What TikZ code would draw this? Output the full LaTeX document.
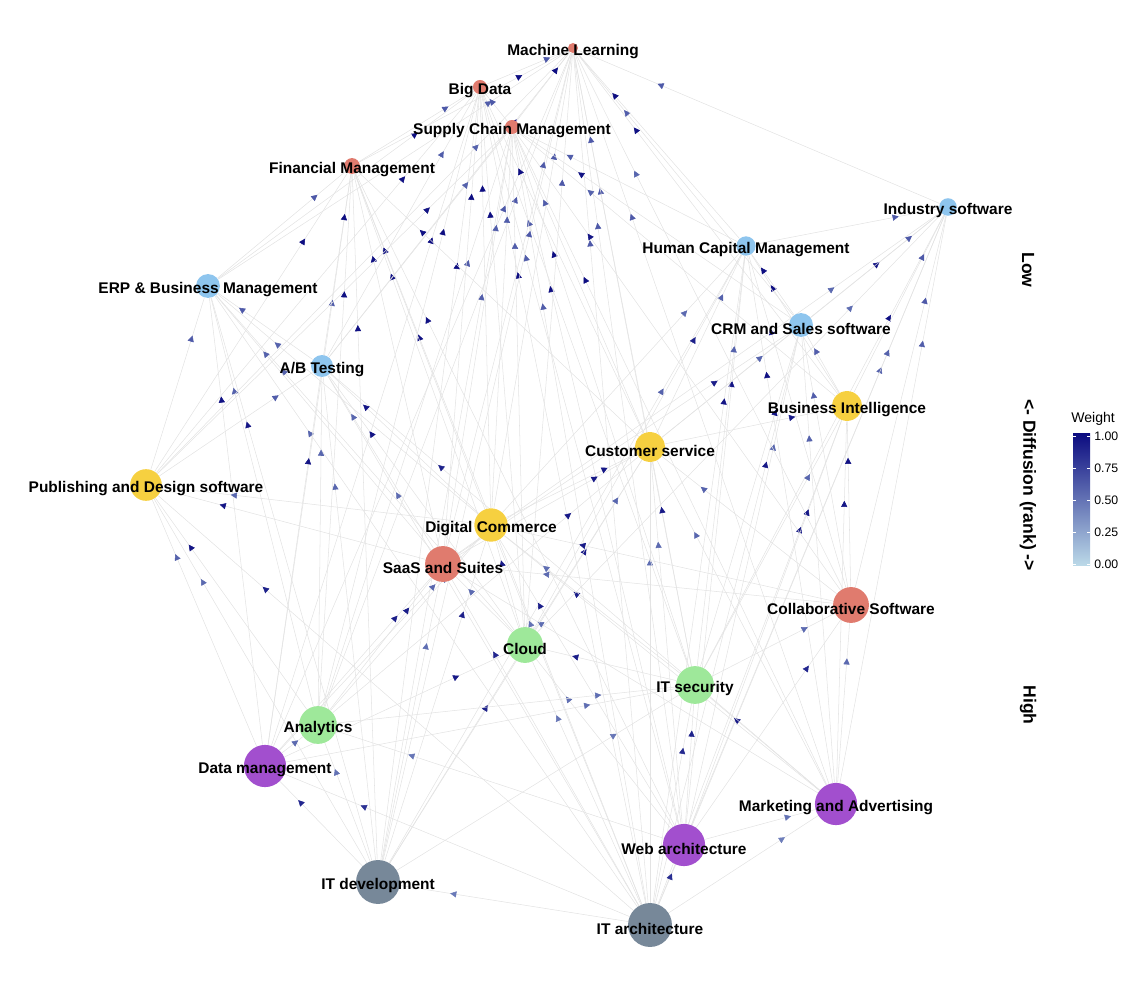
\documentclass[tikz,border=0pt]{standalone}
\usepackage{fontspec}
\setmainfont{Liberation Sans}
\usetikzlibrary{arrows.meta,decorations.markings,backgrounds}
\definecolor{salm}{HTML}{E07B6E}
\definecolor{skyb}{HTML}{8EC5EE}
\definecolor{gold}{HTML}{F6D040}
\definecolor{mint}{HTML}{9EE89A}
\definecolor{plum}{HTML}{A24FCE}
\definecolor{slate}{HTML}{778899}
\definecolor{navyw}{HTML}{0B0B80}
\definecolor{palew}{HTML}{BBD9E8}
\tikzset{
  vert/.style={circle, fill=#1, inner sep=0pt},
  lbl/.style={font=\bfseries\fontsize{8.8}{10}\selectfont, inner sep=0pt, yshift=-2pt},
  flow/.style={draw=gray!22, line width=0.3pt, postaction={decorate},
    decoration={markings, mark=at position 0.78 with {\arrow[color=#1]{Triangle[length=3.5pt,width=3.5pt]}}}},
  side/.style={font=\bfseries\fontsize{10}{12}\selectfont, rotate=-90}
}
\begin{document}
\begin{tikzpicture}[x=0.02cm, y=-0.02cm]
\useasboundingbox (0,0) rectangle (1143,1000);
% nodes
\node[vert=salm, minimum size=5.7pt] (ml) at (573,48) {};
\node[vert=salm, minimum size=8pt] (bd) at (480,87) {};
\node[vert=salm, minimum size=8pt] (scm) at (512,127) {};
\node[vert=salm, minimum size=9pt] (fm) at (352,166) {};
\node[vert=skyb, minimum size=10pt] (ind) at (948,207) {};
\node[vert=skyb, minimum size=11pt] (hcm) at (746,246) {};
\node[vert=skyb, minimum size=13.6pt] (erp) at (208,286) {};
\node[vert=skyb, minimum size=13.6pt] (crm) at (801,325) {};
\node[vert=skyb, minimum size=12.5pt] (ab) at (322,366) {};
\node[vert=gold, minimum size=17pt] (bi) at (847,406) {};
\node[vert=gold, minimum size=17pt] (cs) at (650,447) {};
\node[vert=gold, minimum size=18pt] (pub) at (146,485) {};
\node[vert=gold, minimum size=19pt] (dc) at (491,525) {};
\node[vert=salm, minimum size=20.4pt] (saas) at (443,564) {};
\node[vert=salm, minimum size=20.4pt] (collab) at (851,605) {};
\node[vert=mint, minimum size=20.4pt] (cloud) at (525,645) {};
\node[vert=mint, minimum size=21.5pt] (its) at (695,685) {};
\node[vert=mint, minimum size=21.5pt] (an) at (318,725) {};
\node[vert=plum, minimum size=24pt] (dm) at (265,766) {};
\node[vert=plum, minimum size=24pt] (mkt) at (836,804) {};
\node[vert=plum, minimum size=24pt] (web) at (684,845) {};
\node[vert=slate, minimum size=25pt] (itdev) at (378,882) {};
\node[vert=slate, minimum size=25pt] (itarch) at (650,925) {};
% edges
\begin{pgfonlayer}{background}
\foreach \s/\ts in {
  itarch/{ml,bd,scm,fm,ind,hcm,erp,crm,ab,bi,cs,pub,dc,saas,cloud,its,itdev,web,mkt,dm},
  itdev/{ml,bd,scm,fm,hcm,erp,ab,cs,pub,dc,saas,cloud,an,dm,its},
  web/{ml,scm,bd,fm,ind,hcm,crm,bi,cs,dc,cloud,its,mkt,collab,an},
  mkt/{ml,scm,ind,hcm,crm,bi,cs,its,collab,dc,saas,ab},
  dm/{ml,bd,fm,erp,pub,ab,dc,cloud,an,saas,its},
  an/{ml,bd,scm,fm,erp,pub,ab,cs,dc,saas,its},
  its/{ml,scm,bd,ind,hcm,crm,bi,cs,collab,cloud,dc},
  cloud/{ml,bd,scm,fm,erp,ab,cs,dc,saas,hcm,ind},
  collab/{ind,hcm,crm,bi,cs,scm,ml,dc,saas},
  saas/{ml,bd,scm,fm,erp,pub,ab,cs,ind,crm},
  dc/{ml,bd,scm,fm,erp,ab,pub,cs,hcm},
  pub/{erp,fm,ab,bd,ml,scm},
  cs/{ml,bd,scm,fm,hcm,ind,crm,bi},
  bi/{ind,hcm,crm,ml,scm},
  ab/{erp,fm,bd,ml,scm},
  crm/{ind,hcm,ml,scm},
  erp/{fm,bd,ml},
  hcm/{ind,ml,scm},
  ind/{ml}, fm/{bd,ml}, scm/{bd,ml}, bd/{ml}}
  \foreach \t [count=\k] in \ts {
    \pgfmathtruncatemacro\w{25+mod(\k*37,76)}
    \draw[flow={navyw!\w!palew}] (\s) -- (\t);
  };
\end{pgfonlayer}
% labels
\node[lbl] (ml-t) at (ml) {Machine Learning};
\node[lbl] (bd-t) at (bd) {Big Data};
\node[lbl] (scm-t) at (scm) {Supply Chain Management};
\node[lbl] (fm-t) at (fm) {Financial Management};
\node[lbl] (ind-t) at (ind) {Industry software};
\node[lbl] (hcm-t) at (hcm) {Human Capital Management};
\node[lbl] (erp-t) at (erp) {ERP \& Business Management};
\node[lbl] (crm-t) at (crm) {CRM and Sales software};
\node[lbl] (ab-t) at (ab) {A/B Testing};
\node[lbl] (bi-t) at (bi) {Business Intelligence};
\node[lbl] (cs-t) at (cs) {Customer service};
\node[lbl] (pub-t) at (pub) {Publishing and Design software};
\node[lbl] (dc-t) at (dc) {Digital Commerce};
\node[lbl] (saas-t) at (saas) {SaaS and Suites};
\node[lbl] (collab-t) at (collab) {Collaborative Software};
\node[lbl] (cloud-t) at (cloud) {Cloud};
\node[lbl] (its-t) at (its) {IT security};
\node[lbl] (an-t) at (an) {Analytics};
\node[lbl] (dm-t) at (dm) {Data management};
\node[lbl] (mkt-t) at (mkt) {Marketing and Advertising};
\node[lbl] (web-t) at (web) {Web architecture};
\node[lbl] (itdev-t) at (itdev) {IT development};
\node[lbl] (itarch-t) at (itarch) {IT architecture};
% side axis
\node[side] (low) at (1028,270) {Low};
\node[side] (diff) at (1028,485) {<- Diffusion (rank) ->};
\node[side] (high) at (1028,705) {High};
% legend
\node[font=\fontsize{8}{9}\selectfont, anchor=south west, inner sep=0pt] (wt) at (1071,426) {Weight};
\shade[top color=navyw, bottom color=palew] (1073,433) rectangle (1090,565);
\foreach \v/\y in {1.00/436,0.75/468,0.50/500,0.25/532,0.00/564} {
  \draw[white, line width=0.4pt] (1073,\y) -- (1076,\y) (1087,\y) -- (1090,\y);
  \node[font=\fontsize{7}{8}\selectfont, anchor=west, inner sep=0pt] at (1094,\y) {\v};
}
\end{tikzpicture}
\end{document}
